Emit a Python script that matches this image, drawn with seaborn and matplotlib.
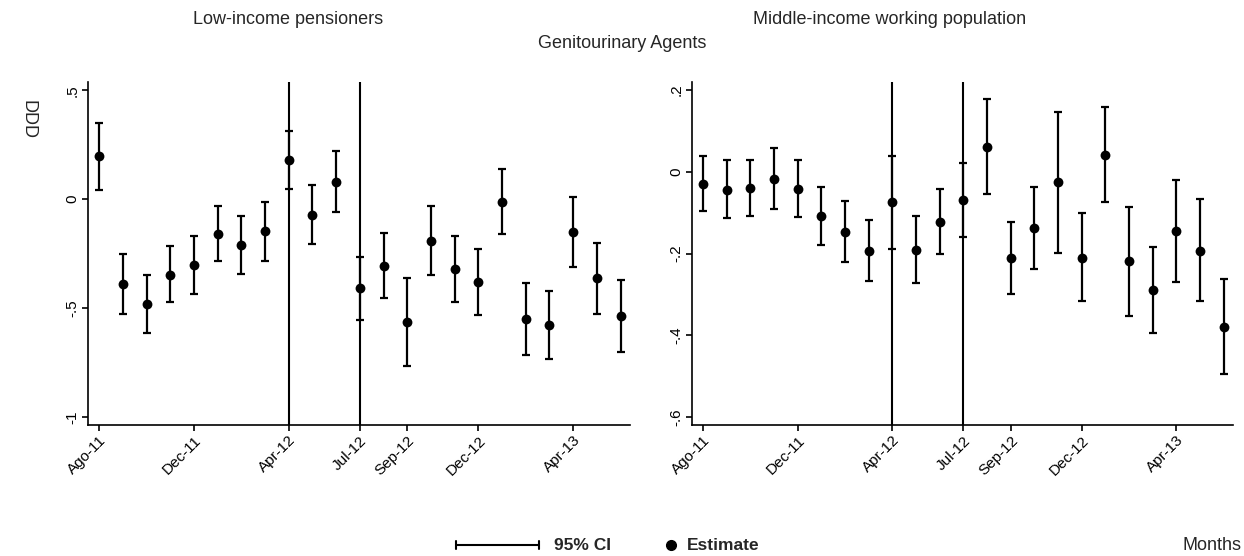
import numpy as np
import pandas as pd
import matplotlib
matplotlib.use("Agg")
import matplotlib.pyplot as plt
import seaborn as sns
from matplotlib.lines import Line2D

# ---- data ----
month_idx = list(range(23))  # Aug-2011 .. Jun-2013
tick_pos = [0, 4, 8, 11, 13, 16, 20]
tick_labels = ["Ago-11", "Dec-11", "Apr-12", "Jul-12", "Sep-12", "Dec-12", "Apr-13"]
policy_lines = [8, 11]

low_est = [0.196, -0.391, -0.480, -0.346, -0.304, -0.161, -0.211, -0.148, 0.179, -0.073,
           0.079, -0.410, -0.307, -0.566, -0.190, -0.321, -0.379, -0.012, -0.552, -0.578,
           -0.151, -0.364, -0.537]
low_hi = [0.352, -0.254, -0.347, -0.216, -0.168, -0.032, -0.076, -0.011, 0.315, 0.063,
          0.220, -0.265, -0.157, -0.364, -0.032, -0.168, -0.228, 0.138, -0.384, -0.420,
          0.012, -0.200, -0.372]
low_lo = [0.044, -0.529, -0.613, -0.474, -0.437, -0.286, -0.343, -0.284, 0.046, -0.208,
          -0.060, -0.557, -0.456, -0.765, -0.346, -0.474, -0.531, -0.161, -0.717, -0.734,
          -0.313, -0.528, -0.702]

mid_est = [-0.029, -0.044, -0.039, -0.017, -0.041, -0.107, -0.147, -0.193, -0.075, -0.191,
           -0.122, -0.069, 0.062, -0.211, -0.138, -0.026, -0.210, 0.042, -0.219, -0.290,
           -0.145, -0.193, -0.379]
mid_hi = [0.038, 0.029, 0.030, 0.058, 0.029, -0.036, -0.072, -0.118, 0.039, -0.108,
          -0.041, 0.021, 0.179, -0.122, -0.036, 0.147, -0.102, 0.158, -0.085, -0.184,
          -0.019, -0.067, -0.263]
mid_lo = [-0.096, -0.114, -0.108, -0.092, -0.111, -0.178, -0.221, -0.268, -0.188, -0.273,
          -0.202, -0.159, -0.054, -0.300, -0.239, -0.199, -0.317, -0.074, -0.352, -0.394,
          -0.271, -0.317, -0.494]

sns.set_theme(style="white")
plt.rcParams['font.family'] = ['Liberation Sans', 'DejaVu Sans']

fig = plt.figure(figsize=(12.44, 5.56), dpi=100)
W, H = 1244, 556

def px_axes(x0, x1, y0, y1):
    return fig.add_axes([x0 / W, 1 - y1 / H, (x1 - x0) / W, (y1 - y0) / H])

axL = px_axes(88, 630, 82, 425)
axR = px_axes(692, 1233, 82, 425)

panels = [
    (axL, low_est, low_lo, low_hi, (-1.037, 0.538), [0.5, 0, -0.5, -1], [".5", "0", "-.5", "-1"]),
    (axR, mid_est, mid_lo, mid_hi, (-0.620, 0.220), [0.2, 0, -0.2, -0.4, -0.6], [".2", "0", "-.2", "-.4", "-.6"]),
]

for ax, est, lo, hi, ylim, yt, ytl in panels:
    df = pd.DataFrame({"month": month_idx, "est": est, "lo": lo, "hi": hi})
    for v in policy_lines:
        ax.axvline(v, color="black", lw=1.5, zorder=1)
    ax.errorbar(df["month"], df["est"],
                yerr=[df["est"] - df["lo"], df["hi"] - df["est"]],
                fmt="none", ecolor="black", elinewidth=1.6, capsize=3, capthick=1.6, zorder=2)
    sns.scatterplot(data=df, x="month", y="est", ax=ax, color="black", s=50,
                    edgecolor="black", linewidth=0, zorder=3, legend=False)
    ax.set_xlim(-0.47, 22.4)
    ax.set_ylim(*ylim)
    ax.set_yticks(yt)
    ax.set_yticklabels(ytl, rotation=90, va="center", fontsize=11)
    ax.set_xticks(tick_pos)
    ax.set_xticklabels(tick_labels, rotation=45, ha="right", rotation_mode="anchor", fontsize=11)
    ax.set_xlabel("")
    ax.set_ylabel("")
    for s in ["top", "right"]:
        ax.spines[s].set_visible(False)
    for s in ["left", "bottom"]:
        ax.spines[s].set_color("black")
        ax.spines[s].set_linewidth(1.2)
    ax.tick_params(axis="both", which="both", direction="out", length=4, width=1.2,
                   color="black", labelcolor="black", bottom=True, left=True, pad=2)

fig.text(288 / W, 1 - 20 / H, "Low-income pensioners", ha="center", va="center", fontsize=13)
fig.text(890 / W, 1 - 20 / H, "Middle-income working population", ha="center", va="center", fontsize=13)
fig.text(622 / W, 1 - 44 / H, "Genitourinary Agents", ha="center", va="center", fontsize=13)
fig.text(28 / W, 1 - 120 / H, "DDD", ha="center", va="center", rotation=270, fontsize=13)

# legend keys at bottom
ly = 1 - 545 / H
fig.add_artist(Line2D([456 / W, 539 / W], [ly, ly], color="black", lw=1.5, transform=fig.transFigure))
for xc in (456, 539):
    fig.add_artist(Line2D([xc / W, xc / W], [ly - 4 / H, ly + 4 / H], color="black", lw=1.5,
                          transform=fig.transFigure))
fig.text(554 / W, ly, "95% CI", ha="left", va="center", fontsize=12.5, weight="bold")
fig.add_artist(Line2D([671 / W], [ly], color="black", lw=0, marker="o", markersize=7,
                      transform=fig.transFigure))
fig.text(687 / W, ly, "Estimate", ha="left", va="center", fontsize=12.5, weight="bold")
fig.text(1244 / W - 0.002, ly, "Months", ha="right", va="center", fontsize=13)

fig.savefig("out.png", dpi=100, facecolor="white")
